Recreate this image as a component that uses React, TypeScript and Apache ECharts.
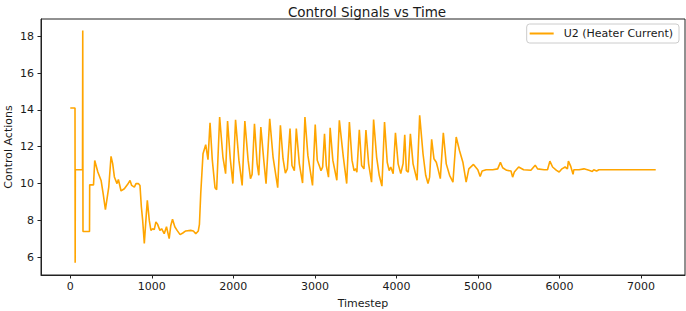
import React, { useEffect, useRef } from "react";
import * as echarts from "echarts";

const chartTitle = "Control Signals vs Time";
const seriesName = "U2 (Heater Current)";
const xAxisName = "Timestep";
const yAxisName = "Control Actions";
const xTicks = [0, 1000, 2000, 3000, 4000, 5000, 6000, 7000];
const yTicks = [6, 8, 10, 12, 14, 16, 18];

const timestep = [
  0, 58, 60, 62, 150, 153, 156, 236, 238, 285, 300, 338, 378, 405, 431, 472, 500, 520, 541, 573,
  590, 623, 663, 704, 733, 753, 786, 806, 835, 855, 872, 888, 908, 933, 945, 969, 989, 1010, 1030, 1050,
  1070, 1099, 1120, 1152, 1180, 1213, 1233, 1254, 1282, 1310, 1347, 1380, 1416, 1477, 1510, 1539, 1570, 1584, 1600, 1628,
  1661, 1689, 1714, 1742, 1775, 1795, 1832, 1872, 1905, 1929, 1962, 1994, 2027, 2068, 2108, 2141, 2181, 2210, 2230, 2259,
  2291, 2312, 2337, 2373, 2401, 2446, 2487, 2544, 2577, 2609, 2638, 2662, 2695, 2719, 2748, 2772, 2809, 2849, 2878, 2914,
  2971, 3004, 3029, 3053, 3075, 3095, 3118, 3140, 3167, 3187, 3220, 3269, 3300, 3349, 3390, 3423, 3455, 3480, 3500, 3515,
  3545, 3573, 3602, 3626, 3659, 3695, 3720, 3757, 3789, 3822, 3854, 3887, 3911, 3930, 3960, 3988, 4021, 4053, 4082, 4102,
  4122, 4145, 4171, 4204, 4253, 4285, 4326, 4359, 4387, 4407, 4432, 4460, 4489, 4510, 4538, 4575, 4611, 4652, 4693, 4733,
  4774, 4815, 4855, 4888, 4945, 4998, 5027, 5051, 5100, 5181, 5242, 5275, 5303, 5352, 5405, 5425, 5446, 5499, 5560, 5649,
  5702, 5731, 5812, 5853, 5882, 5915, 5963, 5996, 6030, 6068, 6097, 6109, 6138, 6166, 6175, 6239, 6300, 6361, 6402, 6420,
  6455, 6483, 7180,
];

const heaterCurrent = [
  14.1, 14.1, 5.7, 10.75, 10.75, 18.3, 7.4, 7.4, 9.93, 9.93, 11.25, 10.63, 10.17, 9.4, 8.59, 9.81, 11.48, 11.08, 10.36, 10.0,
  10.22, 9.6, 9.72, 9.96, 10.17, 9.9, 9.81, 10.0, 10.0, 9.9, 8.73, 8.0, 6.75, 8.37, 9.09, 8.0, 7.46, 7.55, 7.5, 7.92,
  7.8, 7.46, 7.55, 7.28, 7.66, 7.01, 7.73, 8.06, 7.66, 7.46, 7.23, 7.32, 7.43, 7.46, 7.43, 7.28, 7.43, 7.79, 9.45, 11.62,
  12.11, 11.3, 13.3, 11.27, 9.78, 9.67, 13.61, 11.44, 10.54, 13.39, 11.35, 10.0, 13.46, 11.27, 9.9, 13.39, 11.27, 10.27, 10.5, 13.25,
  11.1, 10.45, 13.07, 11.27, 10.0, 13.52, 11.44, 9.78, 13.16, 11.35, 10.57, 10.8, 12.98, 10.98, 10.7, 12.98, 11.07, 10.03, 13.61, 11.53,
  9.9, 13.2, 11.27, 10.98, 10.7, 10.9, 12.7, 10.98, 10.35, 13.03, 11.27, 10.18, 13.43, 11.44, 10.0, 13.34, 11.27, 10.7, 10.8, 10.62,
  12.92, 10.98, 10.8, 12.9, 11.07, 10.08, 13.48, 11.44, 10.45, 9.86, 13.34, 11.16, 10.7, 10.9, 10.54, 12.76, 11.07, 10.54, 11.1, 12.65,
  10.7, 10.62, 12.7, 11.07, 10.18, 13.7, 11.62, 10.45, 10.0, 10.35, 12.4, 11.35, 11.16, 10.8, 10.27, 12.76, 11.07, 10.45, 10.08, 12.53,
  11.78, 11.16, 10.08, 10.8, 11.04, 10.75, 10.39, 10.68, 10.75, 10.75, 10.8, 11.15, 10.86, 10.72, 10.68, 10.35, 10.63, 10.9, 10.75, 10.72,
  11.0, 10.8, 10.75, 10.75, 11.22, 10.9, 10.72, 10.63, 10.8, 10.9, 10.8, 11.22, 10.93, 10.5, 10.75, 10.75, 10.8, 10.72, 10.66, 10.75,
  10.68, 10.75, 10.75,
];

const FONT = "DejaVu Sans";
const INK = "#1a1a1a";

export default function App() {
  const ref = useRef<HTMLDivElement>(null);
  useEffect(() => {
    if (!ref.current) return;
    const chart = echarts.init(ref.current, undefined, { renderer: "svg" });
    const data = timestep.map((t, i) => [t, heaterCurrent[i]]);
    chart.setOption({
      animation: false,
      backgroundColor: "#ffffff",
      textStyle: { fontFamily: FONT, color: INK },
      title: {
        text: chartTitle,
        left: 362,
        top: 0,
        textAlign: "center",
        textStyle: { fontFamily: FONT, fontSize: 13.5, fontWeight: "normal", color: INK },
      },
      legend: {
        right: 7,
        top: 24,
        padding: [4, 6, 4, 3],
        borderColor: "#cccccc",
        borderWidth: 1,
        borderRadius: 3,
        backgroundColor: "rgba(255,255,255,0.8)",
        itemWidth: 24,
        itemHeight: 2,
        icon: "rect",
        textStyle: { fontFamily: FONT, fontSize: 11, color: INK, padding: [0, 0, 0, 5] },
        data: [seriesName],
      },
      grid: {
        left: 41,
        right: 1,
        top: 19,
        bottom: 36,
        show: true,
        borderColor: "#222",
        borderWidth: 1,
        outerBoundsMode: "none",
        containLabel: false,
      },
      xAxis: {
        type: "value",
        min: -359,
        max: 7539,
        name: xAxisName,
        nameLocation: "middle",
        nameGap: 22.5,
        nameMoveOverlap: false,
        nameTextStyle: { fontFamily: FONT, fontSize: 11, color: INK },
        axisLine: { show: true, onZero: false, lineStyle: { color: "#222", width: 1 } },
        axisTick: { show: true, length: 3.5, inside: false, customValues: xTicks, lineStyle: { color: "#222" } },
        axisLabel: {
          customValues: xTicks,
          margin: 6,
          fontFamily: FONT,
          fontSize: 11,
          color: INK,
          formatter: (v: number) => String(v),
        },
        splitLine: { show: false },
      },
      yAxis: {
        type: "value",
        min: 5.04,
        max: 18.93,
        name: yAxisName,
        nameLocation: "middle",
        nameGap: 27,
        nameMoveOverlap: false,
        nameTextStyle: { fontFamily: FONT, fontSize: 11, color: INK },
        axisLine: { show: true, onZero: false, lineStyle: { color: "#222", width: 1 } },
        axisTick: { show: true, length: 3.5, inside: false, customValues: yTicks, lineStyle: { color: "#222" } },
        axisLabel: {
          customValues: yTicks,
          margin: 7,
          fontFamily: FONT,
          fontSize: 11,
          color: INK,
          formatter: (v: number) => String(v),
        },
        splitLine: { show: false },
      },
      series: [
        {
          name: seriesName,
          type: "line",
          data,
          showSymbol: false,
          symbol: "none",
          color: "#FFA500",
          lineStyle: { color: "#FFA500", width: 1.6 },
        },
      ],
    });
    return () => chart.dispose();
  }, []);
  return (
    <div
      ref={ref}
      style={{ position: "absolute", left: 0, top: 0, width: 686, height: 311 }}
    />
  );
}
